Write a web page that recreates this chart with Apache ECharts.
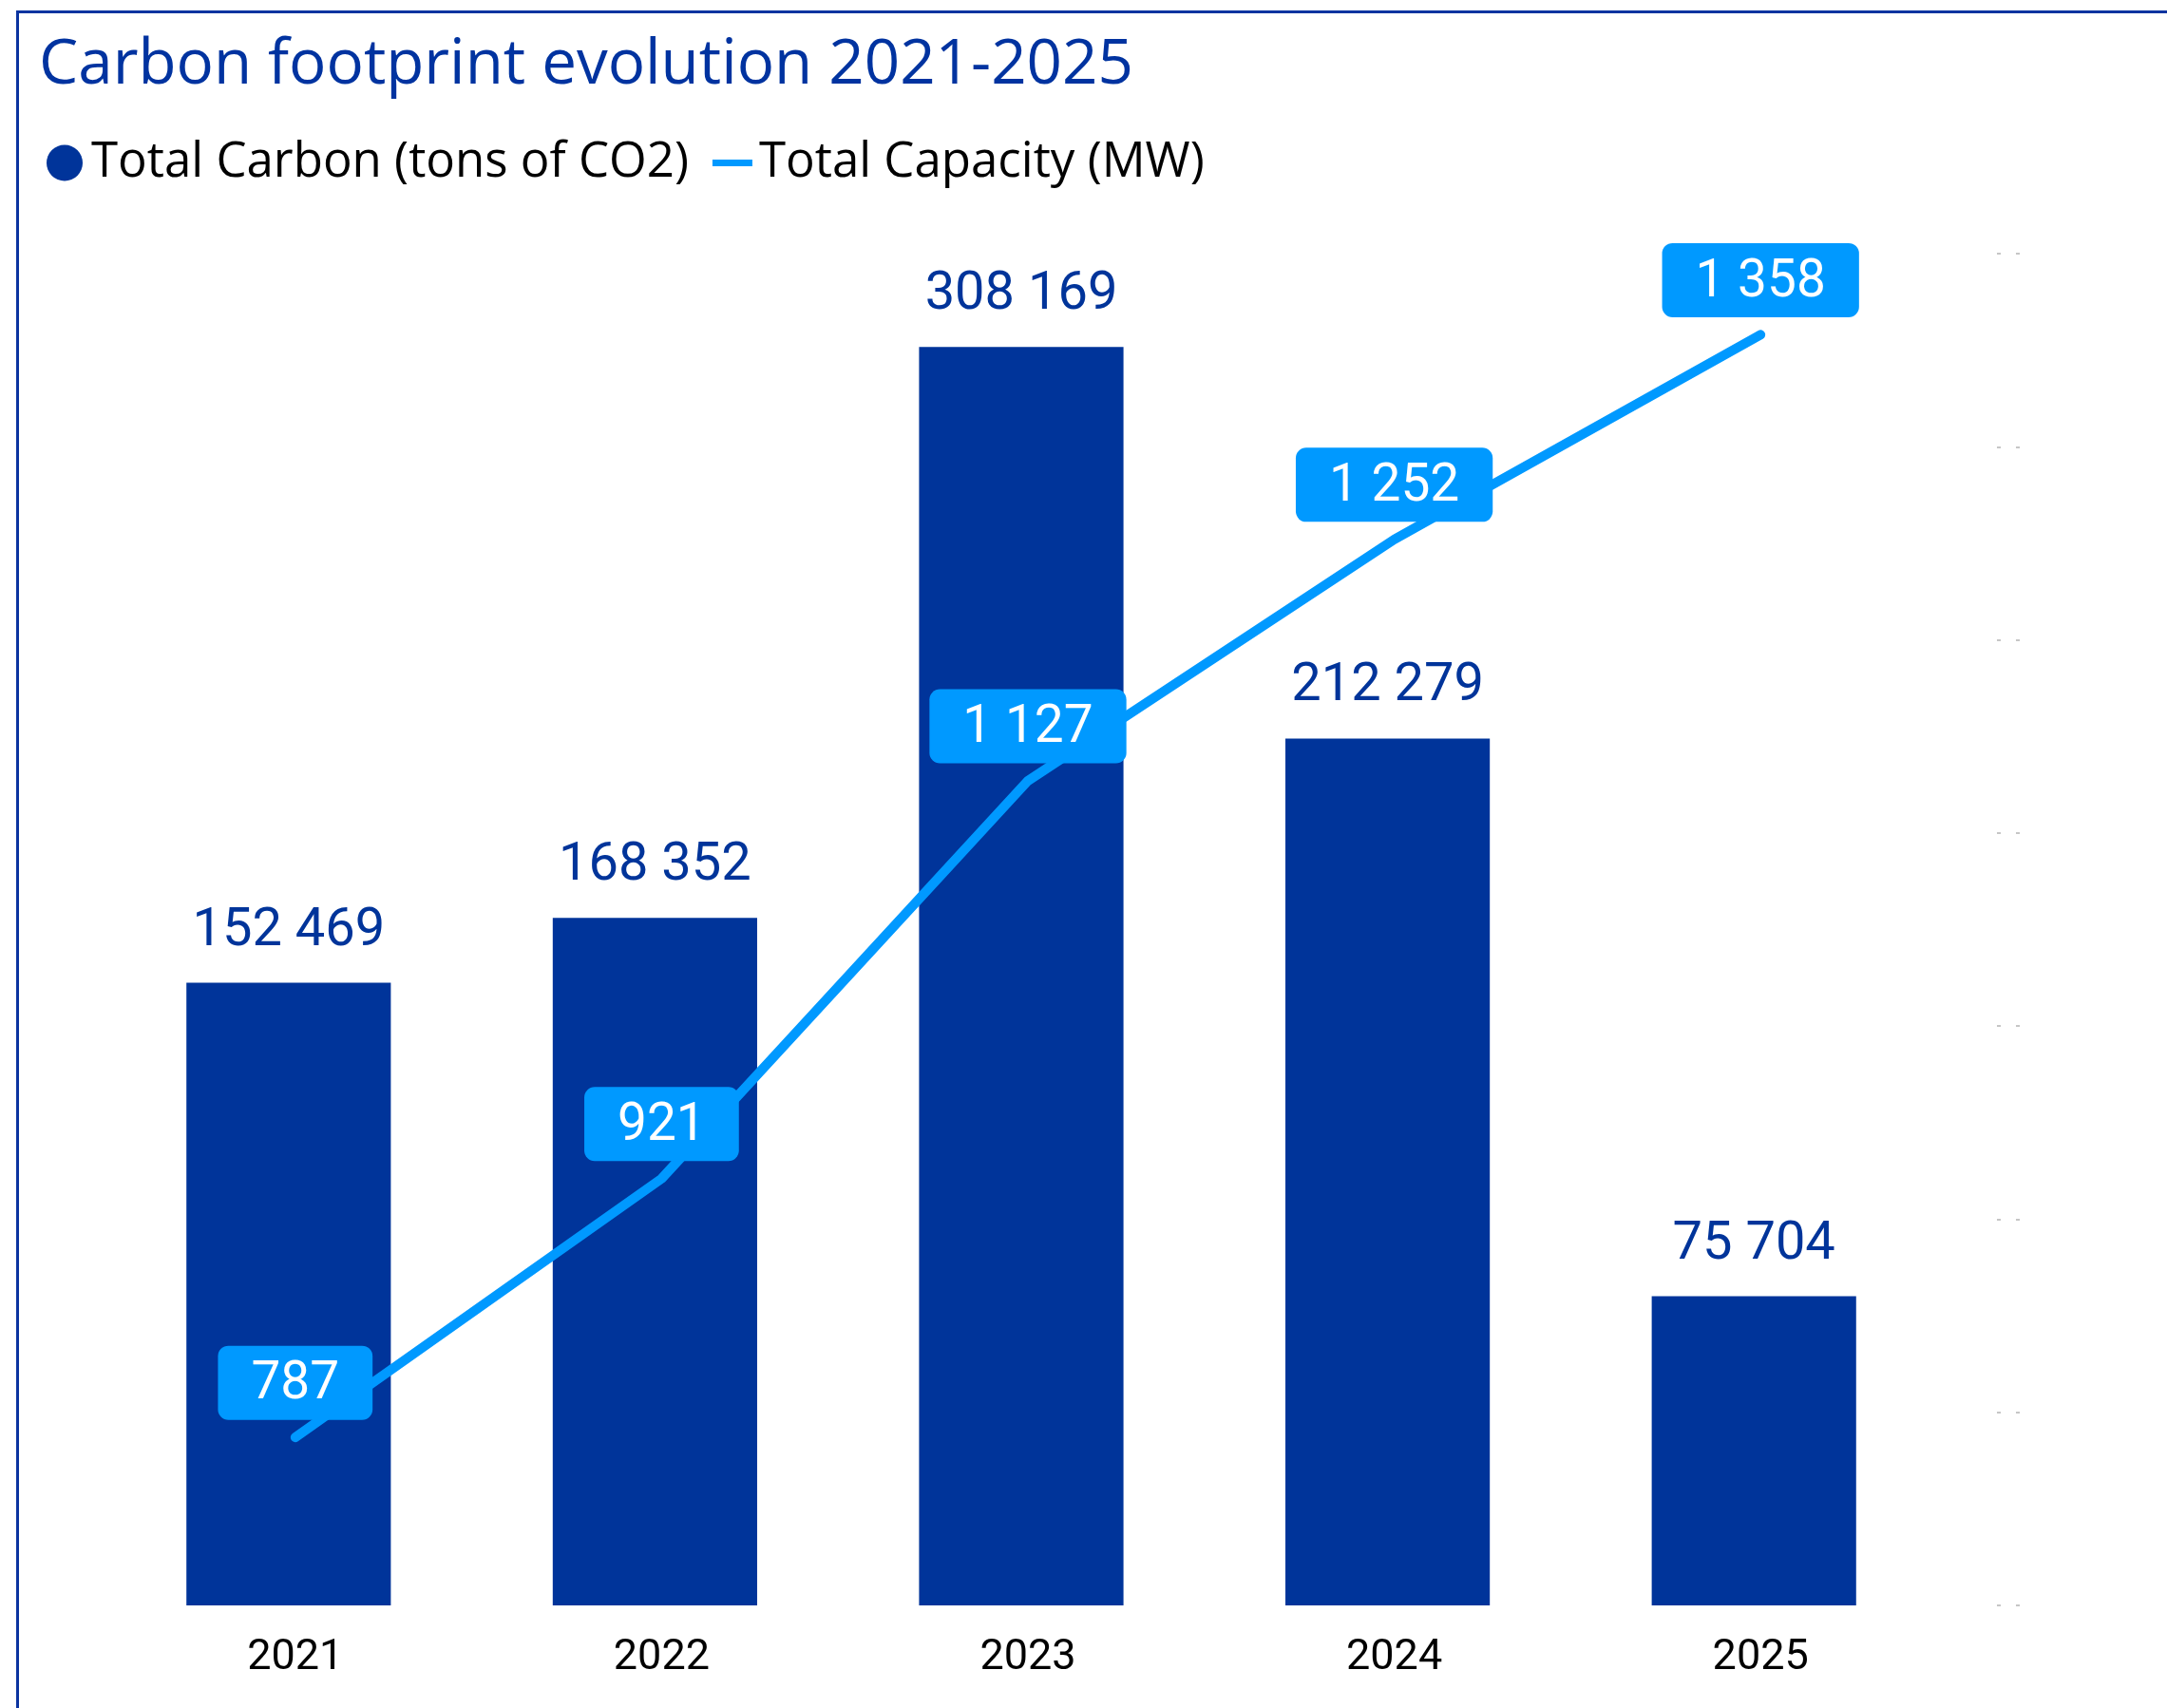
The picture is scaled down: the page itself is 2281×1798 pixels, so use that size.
<!DOCTYPE html>
<html>
<head>
<meta charset="utf-8">
<script src="https://cdn.jsdelivr.net/npm/echarts@6/dist/echarts.min.js"></script>
<style>
  html, body { margin: 0; padding: 0; background: #fff; }
  #frame { position: absolute; left: 17px; top: 11px; right: -10px; bottom: -10px;
           border-top: 3px solid #0b34a0; border-left: 3px solid #0b34a0; }
  #chart { position: absolute; left: 0; top: 0; width: 2281px; height: 1798px; }
</style>
</head>
<body>
<div id="frame"></div>
<div id="chart"></div>
<script>
const titleText = 'Carbon footprint evolution 2021-2025';
const categories = ['2021', '2022', '2023', '2024', '2025'];
const carbonName = 'Total Carbon (tons of CO2)';
const capacityName = 'Total Capacity (MW)';
const totalCarbon = [152469, 168352, 308169, 212279, 75704];
const totalCapacity = [787, 921, 1127, 1252, 1358];
const capacityTicks = [700, 800, 900, 1000, 1100, 1200, 1300, 1400];

const fmt = v => String(v).replace(/\B(?=(\d{3})+(?!\d))/g, ' ');

const chart = echarts.init(document.getElementById('chart'), null, { renderer: 'canvas' });
chart.setOption({
  backgroundColor: 'transparent',
  animation: false,
  title: {
    text: titleText,
    left: 36, top: 31,
    textStyle: { fontFamily: 'Open Sans', fontWeight: 'normal', fontSize: 65.5, color: '#0033a0' }
  },
  legend: {
    left: 44, top: 141,
    itemWidth: 42, itemHeight: 38, itemGap: 25,
    itemStyle: { borderWidth: 0 },
    textStyle: { fontFamily: 'Open Sans', fontSize: 51, color: '#000', padding: [0, 0, 0, 2] },
    data: [
      { name: carbonName, icon: 'circle' },
      { name: capacityName, icon: 'path://M0,0M42,38M0,15.5h42v7h-42z' }
    ]
  },
  grid: [
    { left: 111, width: 1928, top: 267, height: 1423 },
    { left: 118, width: 1928, top: 267, height: 1423 },
    { left: 2102, width: 24, top: 267, height: 1423 }
  ],
  xAxis: [
    { type: 'category', gridIndex: 0, data: categories, show: false },
    {
      type: 'category', gridIndex: 1, data: categories,
      axisLine: { show: false }, axisTick: { show: false },
      axisLabel: { margin: 33, fontFamily: 'Roboto', fontSize: 45, color: '#000' }
    },
    { type: 'value', gridIndex: 2, show: false, min: 0, max: 1 }
  ],
  yAxis: [
    { type: 'value', gridIndex: 0, min: 0, max: 331000, show: false, splitLine: { show: false } },
    { type: 'value', gridIndex: 1, min: capacityTicks[0], max: capacityTicks[capacityTicks.length - 1], show: false, splitLine: { show: false } },
    {
      type: 'value', gridIndex: 2, min: capacityTicks[0], max: capacityTicks[capacityTicks.length - 1], interval: 100,
      axisLine: { show: false }, axisTick: { show: false }, axisLabel: { show: false },
      splitLine: { show: true, lineStyle: { color: '#c6c6c6', width: 2, type: [4, 16] } }
    }
  ],
  series: [
    {
      name: carbonName, type: 'bar', xAxisIndex: 0, yAxisIndex: 0,
      data: totalCarbon, barWidth: '55.8%',
      itemStyle: { color: '#00349a' },
      label: {
        show: true, position: 'top', distance: 26,
        formatter: p => fmt(p.value),
        fontFamily: 'Roboto', fontSize: 56, color: '#00349a'
      },
      z: 2
    },
    {
      name: capacityName, type: 'line', xAxisIndex: 1, yAxisIndex: 1,
      data: totalCapacity, showSymbol: true, symbol: 'circle', symbolSize: 1,
      lineStyle: { color: '#0099ff', width: 10, cap: 'round', join: 'round' },
      itemStyle: { color: '#0099ff' },
      label: {
        show: true, position: 'top', distance: 18,
        formatter: p => fmt(p.value),
        fontFamily: 'Roboto', fontSize: 55, lineHeight: 54, color: '#fff',
        backgroundColor: '#0099ff', borderRadius: 11, padding: [15, 35, 9, 35]
      },
      z: 3
    }
  ]
});
</script>
</body>
</html>
